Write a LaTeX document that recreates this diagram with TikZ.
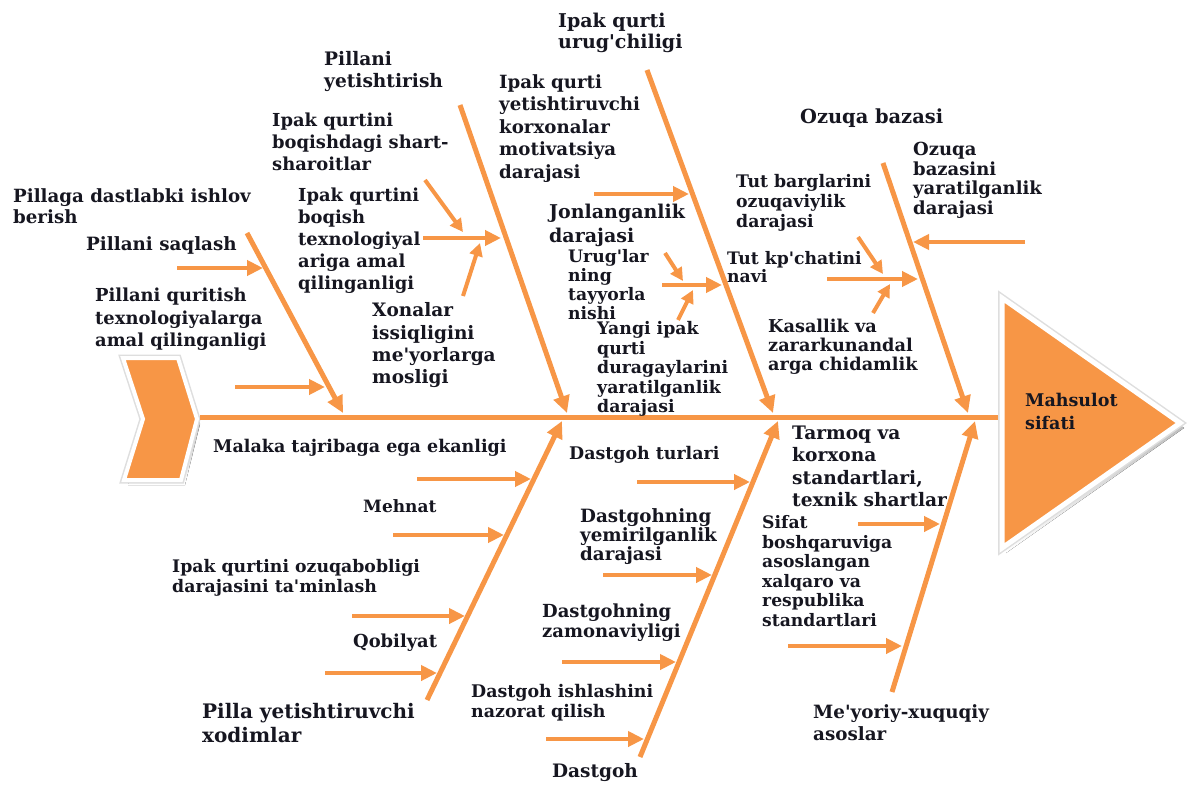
\documentclass[tikz,border=0pt]{standalone}
\usepackage{fontspec}
\setmainfont{DejaVu Serif}
\usetikzlibrary{arrows.meta}
\definecolor{fishor}{RGB}{247,150,70}
\definecolor{txt}{RGB}{22,22,32}
\definecolor{shade}{RGB}{196,165,140}
\definecolor{glow}{RGB}{222,222,222}
\newcommand{\ap}{\textquotesingle}
\tikzset{
  bone/.style={draw=fishor, line width=5pt, -{Triangle[length=17pt,width=16pt]}},
  twig/.style={draw=fishor, line width=4.5pt, -{Triangle[length=16pt,width=15pt]}},
  smalltwig/.style={draw=fishor, line width=4pt, -{Triangle[length=13pt,width=13pt]}},
  spineln/.style={draw=fishor, line width=5pt},
  lbl/.style 2 args={anchor=north west, inner sep=0pt, align=left, text=txt,
    font=\bfseries\fontsize{#1}{#2}\selectfont},
}
\begin{document}
\begin{tikzpicture}[x=1pt,y=-1pt]
\useasboundingbox (0,0) rectangle (1192,787);

% ---- tail ----
\fill[shade] (127,363) -- (182,363) -- (200,424) -- (185,485) -- (128,485) -- (147,424) -- cycle;
\draw[glow, line width=7pt, line join=miter] (123,358) -- (178,358) -- (197,419) -- (181,480) -- (124,480) -- (143,419) -- cycle;
\filldraw[fill=fishor, draw=white, line width=4pt, line join=miter] (123,358) -- (178,358) -- (197,419) -- (181,480) -- (124,480) -- (143,419) -- cycle;

% ---- spine ----
\coordinate (sp0) at (200,417);
\coordinate (sp1) at (1002,417);
\draw[spineln] (sp0) -- (sp1);

% ---- head ----
\fill[shade] (1006,303) -- (1184,428) -- (1006,553) -- cycle;
\draw[glow, line width=8pt, line join=miter] (1002,298) -- (1180,423) -- (1002,548) -- cycle;
\filldraw[fill=fishor, draw=white, line width=5pt, line join=miter] (1002,298) -- (1180,423) -- (1002,548) -- cycle;
\node[lbl={17.5}{23}] (head) at (1025,393.3) {Mahsulot\\sifati};

% ---- bones ----
\coordinate (b1s) at (247,233); \coordinate (b1e) at (343,413);
\coordinate (b2s) at (460,105); \coordinate (b2e) at (567,413);
\coordinate (b3s) at (647,70);  \coordinate (b3e) at (773,413);
\coordinate (b4s) at (883,163); \coordinate (b4e) at (968,413);
\coordinate (b5s) at (427,700); \coordinate (b5e) at (562,421);
\coordinate (b6s) at (640,757); \coordinate (b6e) at (778,421);
\coordinate (b7s) at (892,692); \coordinate (b7e) at (975,421);
\foreach \i in {1,...,7} {\draw[bone] (b\i s) -- (b\i e);}

% ---- twigs, top ----
\coordinate (a1s) at (177,268); \coordinate (a1e) at (263,268);
\coordinate (a2s) at (235,387); \coordinate (a2e) at (325,387);
\coordinate (a3s) at (423,238); \coordinate (a3e) at (501,238);
\coordinate (a4s) at (425,180); \coordinate (a4e) at (463,232);
\coordinate (a5s) at (463,296); \coordinate (a5e) at (480,243);
\coordinate (a6s) at (594,194); \coordinate (a6e) at (689,194);
\coordinate (a7s) at (662,285); \coordinate (a7e) at (722,285);
\coordinate (a8s) at (665,253); \coordinate (a8e) at (683,281);
\coordinate (a9s) at (678,320); \coordinate (a9e) at (693,290);
\coordinate (a10s) at (827,279); \coordinate (a10e) at (918,279);
\coordinate (a11s) at (858,237); \coordinate (a11e) at (883,274);
\coordinate (a12s) at (873,313); \coordinate (a12e) at (890,284);
\coordinate (a13s) at (1025,242); \coordinate (a13e) at (913,242);
\foreach \i in {1,2,3,6,7,10,13} {\draw[twig] (a\i s) -- (a\i e);}
\foreach \i in {4,5,8,9,11,12} {\draw[smalltwig] (a\i s) -- (a\i e);}

% ---- twigs, bottom ----
\coordinate (c1s) at (417,479); \coordinate (c1e) at (531,479);
\coordinate (c2s) at (393,535); \coordinate (c2e) at (504,535);
\coordinate (c3s) at (352,616); \coordinate (c3e) at (465,616);
\coordinate (c4s) at (325,673); \coordinate (c4e) at (437,673);
\coordinate (c5s) at (637,482); \coordinate (c5e) at (750,482);
\coordinate (c6s) at (603,575); \coordinate (c6e) at (712,575);
\coordinate (c7s) at (562,662); \coordinate (c7e) at (676,662);
\coordinate (c8s) at (546,739); \coordinate (c8e) at (644,739);
\coordinate (c9s) at (858,524); \coordinate (c9e) at (940,524);
\coordinate (c10s) at (788,646); \coordinate (c10e) at (902,646);
\foreach \i in {1,...,10} {\draw[twig] (c\i s) -- (c\i e);}

% ---- labels, top ----
\node[lbl={18.2}{21}] (l1) at (13,188) {Pillaga dastlabki ishlov\\berish};
\node[lbl={18.3}{22}] (l2) at (86,235.9) {Pillani saqlash};
\node[lbl={17.9}{22.5}] (l3) at (95,288) {Pillani quritish\\texnologiyalarga\\amal qilinganligi};
\node[lbl={18.6}{22}] (l4) at (324,50.7) {Pillani\\yetishtirish};
\node[lbl={17.9}{22}] (l5) at (272,113) {Ipak qurtini\\boqishdagi shart-\\sharoitlar};
\node[lbl={17.9}{22}] (l6) at (298,188) {Ipak qurtini\\boqish\\texnologiyal\\ariga amal\\qilinganligi};
\node[lbl={18.5}{22.3}] (l7) at (372,302.7) {Xonalar\\issiqligini\\me\ap yorlarga\\mosligi};
\node[lbl={19}{21}] (l8) at (558,12.5) {Ipak qurti\\urug\ap chiligi};
\node[lbl={18.2}{22.5}] (l9) at (499,74) {Ipak qurti\\yetishtiruvchi\\korxonalar\\motivatsiya\\darajasi};
\node[lbl={19}{24}] (l10) at (549,203.5) {Jonlanganlik\\darajasi};
\node[lbl={17.2}{19}] (l11) at (568,249.4) {Urug\ap lar\\ning\\tayyorla\\nishi};
\node[lbl={17.3}{19.5}] (l12) at (597,321.4) {Yangi ipak\\qurti\\duragaylarini\\yaratilganlik\\darajasi};
\node[lbl={19.4}{22}] (l13) at (800,108.3) {Ozuqa bazasi};
\node[lbl={18}{19.5}] (l14) at (913,142) {Ozuqa\\bazasini\\yaratilganlik\\darajasi};
\node[lbl={17.3}{20}] (l15) at (736,174.4) {Tut barglarini\\ozuqaviylik\\darajasi};
\node[lbl={17.2}{18}] (l16) at (727,251.4) {Tut kp\ap chatini\\navi};
\node[lbl={17.7}{19}] (l17) at (768,319) {Kasallik va\\zararkunandal\\arga chidamlik};

% ---- labels, bottom ----
\node[lbl={17.5}{20}] (m1) at (213,439) {Malaka tajribaga ega ekanligi};
\node[lbl={17}{20}] (m2) at (363,499.5) {Mehnat};
\node[lbl={17.3}{20}] (m3) at (172,559.4) {Ipak qurtini ozuqabobligi\\darajasini ta\ap minlash};
\node[lbl={17.9}{20}] (m4) at (353,634) {Qobilyat};
\node[lbl={20}{24}] (m5) at (202,703) {Pilla yetishtiruvchi\\xodimlar};
\node[lbl={17.4}{20}] (m6) at (569,446.3) {Dastgoh turlari};
\node[lbl={18.3}{19}] (m7) at (580,507.9) {Dastgohning\\yemirilganlik\\darajasi};
\node[lbl={18}{20}] (m8) at (542,604) {Dastgohning\\zamonaviyligi};
\node[lbl={17.4}{20}] (m9) at (471,684.3) {Dastgoh ishlashini\\nazorat qilish};
\node[lbl={18.5}{22}] (m10) at (552,763.5) {Dastgoh};
\node[lbl={18.6}{22.5}] (m11) at (792,425.7) {Tarmoq va\\korxona\\standartlari,\\texnik shartlar};
\node[lbl={17.2}{19.5}] (m12) at (762,515.4) {Sifat\\boshqaruviga\\asoslangan\\xalqaro va\\respublika\\standartlari};
\node[lbl={18.3}{22}] (m13) at (813,703.9) {Me\ap yoriy-xuquqiy\\asoslar};
\end{tikzpicture}
\end{document}
